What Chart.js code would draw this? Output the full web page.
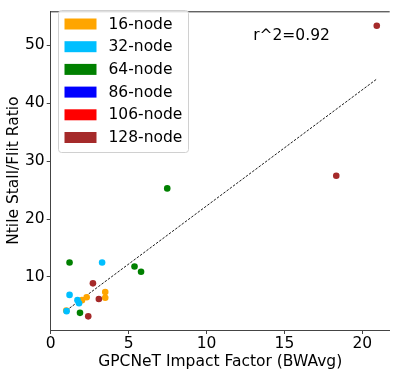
<!DOCTYPE html>
<html>
<head>
<meta charset="utf-8">
<script src="https://cdn.jsdelivr.net/npm/chart.js@4"></script>
<style>
  html, body { margin: 0; padding: 0; background: #fff; }
  #wrap { width: 393px; height: 372px; position: relative; }
</style>
</head>
<body>
<div id="wrap"><canvas id="scatterChart" width="393" height="372"></canvas></div>
<script>
// -------------------------------
// DATA
// -------------------------------
const groupNames  = ["16-node", "32-node", "64-node", "86-node", "106-node", "128-node"];
const groupColors = ["#FFA500", "#00BFFF", "#008000", "#0000FF", "#FF0000", "#A52A2A"];

const x16  = [1.0, 2.01, 2.31, 3.5, 3.5];
const y16  = [4.2, 6.0, 6.5, 7.4, 6.4];
const x32  = [1.02, 1.21, 1.72, 1.82, 3.3];
const y32  = [4.1, 6.9, 6.0, 5.45, 12.5];
const x64  = [1.21, 1.88, 5.38, 5.8, 7.48];
const y64  = [12.5, 3.8, 11.8, 10.9, 25.3];
const x86  = [];
const y86  = [];
const x106 = [];
const y106 = [];
const x128 = [2.41, 2.71, 3.09, 18.33, 20.93];
const y128 = [3.2, 8.9, 6.2, 27.5, 53.4];

// least squares line end points
const fitX = [1.0, 20.93];
const fitY = [4.2, 44.2];

const rSquaredLabel = "r^2=0.92";
const xTitle = "GPCNeT Impact Factor (BWAvg)";
const yTitle = "Ntile Stall/Flit Ratio";

const groupX = [x16, x32, x64, x86, x106, x128];
const groupY = [y16, y32, y64, y86, y106, y128];

const FONT = "'DejaVu Sans', sans-serif";
const FSIZE = 15.5;

function toPoints(xs, ys) {
    return xs.map((x, i) => ({ x: x, y: ys[i] }));
}

// -------------------------------
// BUILD DATASETS
// -------------------------------
const datasets = groupNames.map((name, i) => ({
    label: name,
    data: toPoints(groupX[i], groupY[i]),
    backgroundColor: groupColors[i],
    borderWidth: 0,
    pointRadius: 3.3,
    pointHoverRadius: 3.3,
    order: groupNames.length - i
}));

datasets.push({
    type: "line",
    label: "fit",
    data: toPoints(fitX, fitY),
    borderColor: "#000",
    borderWidth: 0.9,
    borderDash: [2.5, 1.5],
    pointRadius: 0,
    fill: false,
    order: 20
});

// -------------------------------
// LEGEND + ANNOTATION PLUGIN
// -------------------------------
const overlayPlugin = {
    id: "overlay",
    afterDraw(chart) {
        const c = chart.ctx;
        const area = chart.chartArea;

        // top spine
        c.save();
        c.strokeStyle = "#222";
        c.lineWidth = 1;
        c.beginPath();
        c.moveTo(area.left, area.top + 0.5);
        c.lineTo(area.right, area.top + 0.5);
        c.stroke();

        // r^2 label
        c.font = FSIZE + "px " + FONT;
        c.fillStyle = "#000";
        c.textAlign = "center";
        c.textBaseline = "middle";
        c.fillText(rSquaredLabel, 291.5, 36);

        // legend box
        const bx = 58.5, by = 10.5, bw = 130, bh = 142;
        c.beginPath();
        c.roundRect(bx, by, bw, bh, 3);
        c.fillStyle = "rgba(255,255,255,0.8)";
        c.fill();
        c.strokeStyle = "#d0d0d0";
        c.stroke();

        c.textAlign = "left";
        groupNames.forEach((name, i) => {
            const cy = 24 + i * 22.7;
            c.fillStyle = groupColors[i];
            c.fillRect(64.5, cy - 5.5, 32, 11);
            c.fillStyle = "#000";
            c.fillText(name, 108.5, cy + 0.5);
        });
        c.restore();
    }
};

// -------------------------------
// CHART
// -------------------------------
const ctx = document.getElementById("scatterChart").getContext("2d");

new Chart(ctx, {
    type: "scatter",
    data: { datasets: datasets },
    options: {
        responsive: false,
        animation: false,
        layout: { padding: { top: 3, right: 0, left: 0, bottom: 0 } },
        plugins: {
            legend: { display: false },
            tooltip: { enabled: false }
        },
        scales: {
            x: {
                type: "linear",
                min: 0,
                max: 21.76,
                afterFit: s => { s.height = 42; },
                ticks: {
                    stepSize: 5,
                    includeBounds: false,
                    color: "#000",
                    padding: 1,
                    font: { family: FONT, size: FSIZE }
                },
                grid: { drawOnChartArea: false, drawTicks: true, tickLength: 4, color: "#444" },
                border: { color: "#444", width: 1 },
                title: {
                    display: true,
                    text: xTitle,
                    color: "#000",
                    padding: { top: 0, bottom: 1 },
                    font: { family: FONT, size: FSIZE }
                }
            },
            y: {
                type: "linear",
                min: 0.84,
                max: 55.9,
                afterFit: s => { s.width = 50.7; },
                ticks: {
                    stepSize: 10,
                    includeBounds: false,
                    color: "#000",
                    padding: 2,
                    font: { family: FONT, size: FSIZE }
                },
                grid: { drawOnChartArea: false, drawTicks: true, tickLength: 4, color: "#444" },
                border: { color: "#444", width: 1 },
                title: {
                    display: true,
                    text: yTitle,
                    color: "#000",
                    padding: { top: 5, bottom: 0 },
                    font: { family: FONT, size: FSIZE }
                }
            }
        }
    },
    plugins: [overlayPlugin]
});
</script>
</body>
</html>
